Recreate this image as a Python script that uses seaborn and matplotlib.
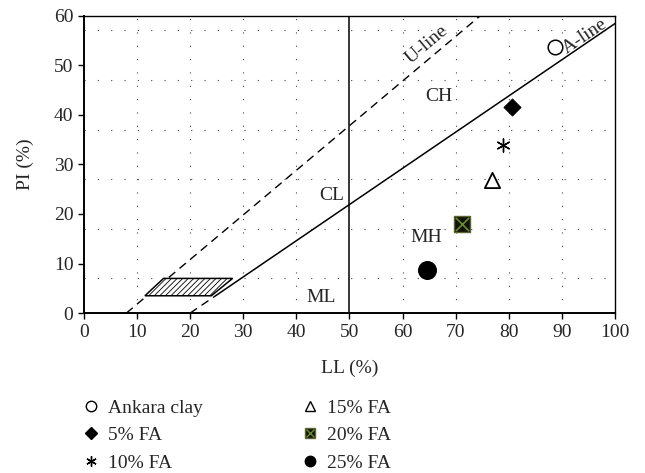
import matplotlib
matplotlib.use("Agg")
import matplotlib.pyplot as plt
from matplotlib.lines import Line2D
from matplotlib.patches import Polygon
from matplotlib.legend_handler import HandlerTuple
import seaborn as sns
import pandas as pd

sns.set_theme(style="white")
plt.rcParams["font.family"] = ["Liberation Serif", "DejaVu Serif"]
plt.rcParams["hatch.color"] = "#555555"
plt.rcParams["hatch.linewidth"] = 0.6

# Soil samples: liquid limit (LL) and plasticity index (PI)
samples = ["Ankara clay", "5% FA", "10% FA", "15% FA", "20% FA", "25% FA"]
ll_values = [88.7, 80.7, 78.9, 76.8, 71.1, 64.6]
pi_values = [53.7, 41.5, 33.9, 26.8, 18.0, 8.7]

# Casagrande chart reference lines
u_line_ll = [8, 74.67]
u_line_pi = [0, 60]
a_line_dash_ll = [20, 24.8]
a_line_dash_pi = [0, 3.5]
a_line_ll = [24.8, 100]
a_line_pi = [3.5, 58.4]
cl_ml_zone = [(11.5, 3.5), (15.0, 7.0), (28.0, 7.0), (24.0, 3.5)]

x_ticks = [0, 10, 20, 30, 40, 50, 60, 70, 80, 90, 100]
y_ticks = [0, 10, 20, 30, 40, 50, 60]
grid_x = [10, 20, 30, 40, 60, 70, 80, 90]
grid_y = [7, 17, 27, 37, 47, 57]

zone_labels = ["CH", "CL", "MH", "ML"]
zone_ll = [66.9, 46.6, 64.4, 44.6]
zone_pi = [43.7, 23.8, 15.2, 3.2]

FS = 14

df = pd.DataFrame({"sample": samples, "LL": ll_values, "PI": pi_values})

fig = plt.figure(figsize=(6.45, 4.73), dpi=100)
ax = fig.add_axes([0.130, 0.338, 0.8235, 0.629])

dot = (0, (1, 11))
ax.hlines(grid_y, 0, 100, colors="#444444", linestyles=[dot], linewidth=0.8, zorder=1)
ax.vlines(grid_x, 0, 60, colors="#444444", linestyles=[dot], linewidth=0.8, zorder=1)

ax.plot(u_line_ll, u_line_pi, color="black", lw=1.0, dashes=(6, 4), zorder=2)
ax.plot(a_line_dash_ll, a_line_dash_pi, color="black", lw=1.0, dashes=(6, 4), zorder=2)
ax.plot(a_line_ll, a_line_pi, color="black", lw=1.1, zorder=2)
ax.plot([50, 50], [0, 60], color="black", lw=1.1, zorder=2)

ax.add_patch(Polygon(cl_ml_zone, closed=True, facecolor="white",
                     edgecolor="black", hatch="//////", lw=1.1, zorder=3))

styles = {
    "Ankara clay": dict(marker="o", s=110, facecolor="white", edgecolor="black", linewidth=1.1),
    "5% FA": dict(marker="D", s=75, color="black", edgecolor="black"),
    "10% FA": dict(marker=(6, 2, 0), s=90, color="black", linewidth=1.0),
    "15% FA": dict(marker="^", s=120, facecolor="white", edgecolor="black", linewidth=1.3),
    "20% FA": dict(marker="s", s=120, facecolor="#121208", edgecolor="#5a6430", linewidth=1.0),
    "25% FA": dict(marker="o", s=160, color="black", edgecolor="black"),
}
for name in samples:
    sub = df[df["sample"] == name]
    sns.scatterplot(data=sub, x="LL", y="PI", ax=ax, legend=False, zorder=5, **styles[name])
    if name == "20% FA":
        sns.scatterplot(data=sub, x="LL", y="PI", ax=ax, legend=False, zorder=6,
                        marker="x", s=90, color="#6b8a2a", linewidth=1.2)

for lab, xx, yy in zip(zone_labels, zone_ll, zone_pi):
    ax.text(xx, yy, lab, fontsize=FS, ha="center", va="center", zorder=4)

ax.text(64.5, 54.2, "U-line", fontsize=FS, rotation=40, ha="center", va="center",
        rotation_mode="anchor", zorder=4)
ax.text(94.3, 55.8, "A-line", fontsize=FS, rotation=34, ha="center", va="center",
        rotation_mode="anchor", zorder=4)

ax.set_xlim(0, 100)
ax.set_ylim(0, 60)
ax.set_xticks(x_ticks)
ax.set_yticks(y_ticks)
ax.set_xlabel("LL (%)", fontsize=FS, labelpad=14)
ax.set_ylabel("PI (%)", fontsize=FS, labelpad=14)
ax.tick_params(axis="both", which="major", labelsize=FS, direction="out",
               length=4, width=1.0, color="black", left=True, bottom=True, pad=3.5)
for side, spine in ax.spines.items():
    spine.set_visible(True)
    spine.set_color("black")
    spine.set_linewidth(1.4 if side in ("left", "bottom") else 1.0)

def handle(name):
    st = styles[name]
    fc = st.get("facecolor", st.get("color"))
    ec = st.get("edgecolor", st.get("color"))
    size = 6 if st["marker"] == "D" else 7.5
    return Line2D([], [], linestyle="none", marker=st["marker"], markersize=size,
                  markerfacecolor=fc, markeredgecolor=ec, markeredgewidth=1.0)

handles = []
for name in samples:
    h = handle(name)
    if name == "20% FA":
        x_mark = Line2D([], [], linestyle="none", marker="x", markersize=6,
                        markeredgecolor="#6b8a2a", markeredgewidth=1.0)
        h = (h, x_mark)
    handles.append(h)

fig.legend(handles, samples, loc="upper left", bbox_to_anchor=(0.114, 0.173),
           bbox_transform=fig.transFigure,
           ncol=2, frameon=False, fontsize=FS, handlelength=1.0, handletextpad=0.38,
           columnspacing=5.0, labelspacing=0.52, borderaxespad=0,
           handler_map={tuple: HandlerTuple(ndivide=1, pad=0)})

fig.savefig("out.png", dpi=100)
